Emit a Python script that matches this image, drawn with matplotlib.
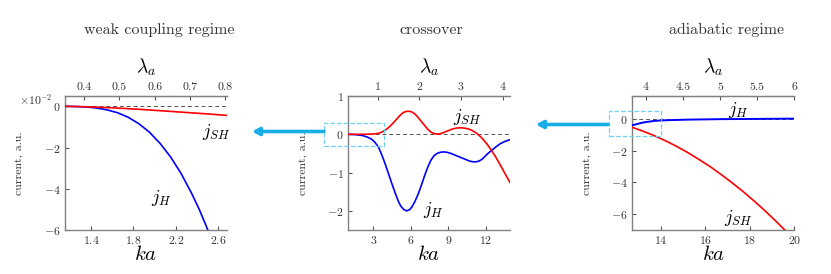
import matplotlib
matplotlib.use("Agg")
import matplotlib.pyplot as plt
from matplotlib.patches import Rectangle, FancyArrowPatch
from matplotlib.ticker import FormatStrFormatter

plt.rcParams['font.family'] = 'cmr10'
plt.rcParams['mathtext.fontset'] = 'cm'
plt.rcParams['axes.formatter.use_mathtext'] = True
plt.rcParams['axes.unicode_minus'] = True

############################### donnees lues sur la figure
# regime de couplage faible (valeurs en 1e-2)
ka_faible_H = [1.15, 1.25, 1.35, 1.45, 1.55, 1.65, 1.75, 1.85, 1.95, 2.05, 2.15, 2.25, 2.35, 2.42, 2.47, 2.51]
jH_faible = [0, -0.01, -0.03, -0.08, -0.17, -0.31, -0.53, -0.84, -1.25, -1.79, -2.45, -3.26, -4.23, -4.99, -5.6, -6.1]
ka_faible_SH = [1.15, 1.3, 1.5, 1.7, 1.9, 2.1, 2.3, 2.5, 2.68]
jSH_faible = [0, -0.015, -0.05, -0.1, -0.16, -0.23, -0.3, -0.37, -0.44]

# crossover
ka_cross_SH = [0.97, 2.0, 2.6, 3.0, 3.4, 3.7, 4.0, 4.3, 4.6, 4.9, 5.15, 5.4, 5.67, 5.9, 6.1, 6.33, 6.55, 6.8,
               7.05, 7.3, 7.55, 7.8, 8.05, 8.3, 8.55, 8.8, 9.1, 9.4, 9.7, 10.0, 10.3, 10.6, 10.9, 11.2, 11.5,
               11.8, 12.1, 12.47, 12.8, 13.13, 13.5, 13.93]
jSH_cross = [0, 0, 0.002, 0.008, 0.025, 0.06, 0.12, 0.2, 0.3, 0.41, 0.5, 0.57, 0.6, 0.6, 0.58, 0.53, 0.45, 0.35,
             0.25, 0.15, 0.07, 0.025, 0.005, 0.01, 0.035, 0.07, 0.11, 0.145, 0.165, 0.17, 0.16, 0.14, 0.1, 0.04, -0.04,
             -0.14, -0.26, -0.43, -0.6, -0.79, -1.01, -1.26]
ka_cross_H = [0.97, 1.6, 2.1, 2.5, 2.87, 3.1, 3.4, 3.65, 3.93, 4.2, 4.47, 4.75, 5.0, 5.2, 5.45, 5.67, 5.9, 6.1,
              6.33, 6.6, 6.85, 7.1, 7.35, 7.6, 7.85, 8.1, 8.35, 8.6, 8.9, 9.2, 9.5, 9.8, 10.1, 10.4, 10.7, 11.0,
              11.2, 11.45, 11.7, 11.95, 12.2, 12.47, 12.8, 13.13, 13.5, 13.93]
jH_cross = [0, -0.01, -0.03, -0.07, -0.13, -0.2, -0.33, -0.52, -0.76, -1.02, -1.28, -1.54, -1.75, -1.88, -1.97, -2.0, -1.97, -1.89,
            -1.75, -1.55, -1.32, -1.08, -0.86, -0.68, -0.56, -0.5, -0.47, -0.46, -0.47, -0.5, -0.54, -0.58, -0.62, -0.66, -0.7, -0.72,
            -0.72, -0.7, -0.65, -0.57, -0.49, -0.42, -0.33, -0.25, -0.19, -0.14]

# regime adiabatique
ka_adia = [12.7, 13.2, 13.7, 14.2, 14.7, 15.2, 15.7, 16.2, 16.7, 17.2, 17.7, 18.2, 18.7, 19.2, 19.6, 20.0]
jH_adia = [-0.4, -0.22, -0.12, -0.08, -0.06, -0.04, -0.03, -0.02, -0.01, -0.005, 0.0, 0.005, 0.01, 0.015, 0.02, 0.02]
ka_adia_SH = [12.7, 13.2, 13.7, 14.2, 14.7, 15.2, 15.7, 16.2, 16.7, 17.2, 17.7, 18.2, 18.7, 19.2, 19.6]
jSH_adia = [-0.52, -0.77, -1.05, -1.37, -1.72, -2.11, -2.54, -2.99, -3.49, -4.02, -4.58, -5.18, -5.81, -6.48, -7.04]

titres = ["weak coupling regime", "crossover", "adiabatic regime"]

############################### figure
fig = plt.figure(figsize=(8.31, 2.74), dpi=100)
W, H = 831, 274

def creer_axe(x0, x1, y0, y1):
    return fig.add_axes([x0 / W, 1 - y1 / H, (x1 - x0) / W, (y1 - y0) / H])

ax1 = creer_axe(64.5, 226.7, 96, 230)
ax2 = creer_axe(348, 510, 96, 230)
ax3 = creer_axe(632, 794.3, 96, 230)

gris = '#555555'
for ax in (ax1, ax2, ax3):
    ax.spines['right'].set_visible(False)
    for s in ('left', 'bottom', 'top'):
        ax.spines[s].set_color('#808080')
        ax.spines[s].set_linewidth(1.0)
    ax.tick_params(direction='in', length=3, labelsize=8.5, colors=gris, labelcolor='#333333', pad=3)
    ax.axhline(0, color=gris, ls='--', lw=0.7, dashes=(4, 3), zorder=1)
    ax.set_xlabel('$ka$', fontsize=15, labelpad=-1)
    ax.set_ylabel('current, a.u.', fontsize=8.5, color='#333333', labelpad=14)
    sec = ax.secondary_xaxis('top', functions=(lambda x: x * 0.3, lambda x: x / 0.3))
    sec.tick_params(direction='in', length=3, labelsize=8.5, colors=gris, labelcolor='#333333', pad=3)
    sec.spines['top'].set_color('#808080')
    sec.xaxis.set_major_formatter(FormatStrFormatter('%g'))
    sec.set_xlabel(r'$\lambda_a$', fontsize=14, labelpad=7)
    ax.sec = sec

# panneau 1
ax1.plot(ka_faible_H, jH_faible, color='blue', lw=1.2, zorder=3)
ax1.plot(ka_faible_SH, jSH_faible, color='red', lw=1.2, zorder=3)
ax1.set_xlim(1.15, 2.68)
ax1.set_ylim(-6, 0.5)
ax1.set_xticks([1.4, 1.8, 2.2, 2.6])
ax1.set_yticks([-6, -4, -2, 0])
ax1.sec.set_xticks([0.4, 0.5, 0.6, 0.7, 0.8])
ax1.text(2.58, -1.25, '$j_{SH}$', fontsize=13, ha='center', va='center')
ax1.text(2.06, -4.45, '$j_H$', fontsize=13, ha='center', va='center')
fig.text(53 / W, 1 - 100 / H, r'$\times10^{-2}$', fontsize=8.5, ha='right', va='center', color='#333333')

# panneau 2
ax2.plot(ka_cross_H, jH_cross, color='blue', lw=1.2, zorder=3)
ax2.plot(ka_cross_SH, jSH_cross, color='red', lw=1.2, zorder=3)
ax2.set_xlim(0.97, 13.93)
ax2.set_ylim(-2.5, 1)
ax2.set_xticks([3, 6, 9, 12])
ax2.set_yticks([-2, -1, 0, 1])
ax2.sec.set_xticks([1, 2, 3, 4])
ax2.text(10.5, 0.45, '$j_{SH}$', fontsize=13, ha='center', va='center')
ax2.text(7.8, -1.98, '$j_H$', fontsize=13, ha='center', va='center')
ax2.add_patch(Rectangle((-0.93, -0.3), 4.78, 0.6, fill=False, ec='#6fd0f5', ls='--', lw=0.9, clip_on=False, zorder=4))

# panneau 3
ax3.plot(ka_adia, jH_adia, color='blue', lw=1.4, zorder=3)
ax3.plot(ka_adia_SH, jSH_adia, color='red', lw=1.2, zorder=3)
ax3.set_xlim(12.7, 20)
ax3.set_ylim(-7, 1.45)
ax3.set_xticks([14, 16, 18, 20])
ax3.set_yticks([-6, -4, -2, 0])
ax3.sec.set_xticks([4, 4.5, 5, 5.5, 6])
ax3.text(17.5, 0.55, '$j_H$', fontsize=13, ha='center', va='center')
ax3.text(17.5, -6.25, '$j_{SH}$', fontsize=13, ha='center', va='center')
ax3.add_patch(Rectangle((11.65, -1.05), 2.35, 1.55, fill=False, ec='#6fd0f5', ls='--', lw=0.9, clip_on=False, zorder=4))

# titres
for x, t in zip([159, 431, 727], titres):
    fig.text(x / W, 1 - 30 / H, t, fontsize=11.5, ha='center', va='center', color='#333333')

# fleches
for x0, x1, y in [(324, 252, 131.5), (608, 536, 124.5)]:
    fig.add_artist(FancyArrowPatch((x0 / W, 1 - y / H), (x1 / W, 1 - y / H),
                   transform=fig.transFigure, arrowstyle='-|>,head_length=4,head_width=2.2',
                   color='#19aee8', lw=2.6, mutation_scale=1, shrinkA=0, shrinkB=0))

fig.savefig('out.png', dpi=100)
